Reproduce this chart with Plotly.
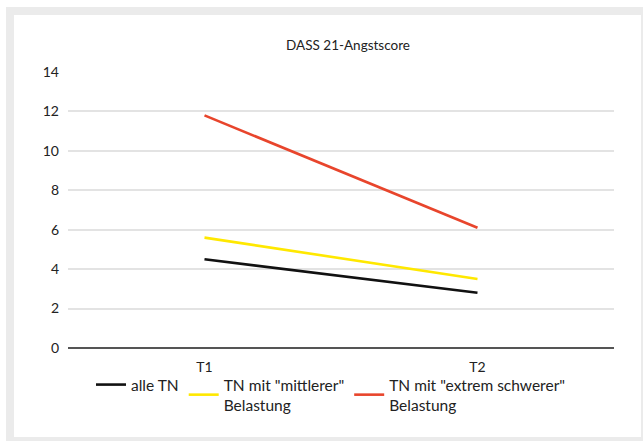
import plotly.graph_objects as go

categories = ["T1", "T2"]
alle_tn = [4.5, 2.8]
mittlerer = [5.6, 3.5]
extrem = [11.8, 6.1]
series_names = ["alle TN", "TN mit \"mittlerer\"<br>Belastung", "TN mit \"extrem schwerer\"<br>Belastung"]
y_ticks = [0, 2, 4, 6, 8, 10, 12, 14]

L, R, T, B = 68, 29, 72, 93
W, H = 643, 441
PW, PH = W - L - R, H - T - B

def px(x):
    return (x - L) / PW

def py(y):
    return (H - B - y) / PH

colors = ["#111111", "#ffe800", "#e8452c"]
fig = go.Figure()
for name, vals, c in zip(series_names, [alle_tn, mittlerer, extrem], colors):
    fig.add_trace(go.Scatter(x=categories, y=vals, mode="lines", name=name,
                             line=dict(color=c, width=2.6)))

fig.update_layout(
    width=W, height=H,
    margin=dict(l=L, r=R, t=T, b=B),
    paper_bgcolor="white", plot_bgcolor="white",
    font=dict(family="Lato, sans-serif", size=13, color="#222222"),
    title=dict(text="DASS 21-Angstscore", x=px(348), xref="paper", xanchor="center",
               y=1 - 45 / H, yanchor="middle", font=dict(size=13.5, color="#222222")),
    showlegend=True,
    legend=dict(orientation="h", x=px(91), xanchor="left", y=py(368), yanchor="top",
                font=dict(size=15.5), itemwidth=30, bgcolor="rgba(0,0,0,0)",
                tracegroupgap=0),
    shapes=[
        dict(type="rect", xref="paper", yref="paper", x0=px(6), x1=px(645), y0=py(443), y1=py(7),
             fillcolor="#ebebeb", line=dict(width=0), layer="below"),
        dict(type="rect", xref="paper", yref="paper", x0=px(14), x1=px(641), y0=py(437), y1=py(15),
             fillcolor="white", line=dict(width=0), layer="below"),
    ],
)
fig.update_xaxes(range=[-0.5, 1.5], showgrid=False, showline=False, ticks="", zeroline=False,
                 tickfont=dict(size=14), ticklabelstandoff=9)
fig.update_yaxes(range=[0, 14], tickvals=y_ticks, showgrid=True, gridcolor="#e3e3e3",
                 gridwidth=1.5, zeroline=True, zerolinecolor="#555555", zerolinewidth=2,
                 showline=False, ticks="", tickfont=dict(size=14), ticklabelstandoff=8)
fig.write_html("out.html", config={"displayModeBar": False},
               post_script="document.body.style.margin='0';document.body.style.overflow='hidden';document.documentElement.style.overflow='hidden';")
